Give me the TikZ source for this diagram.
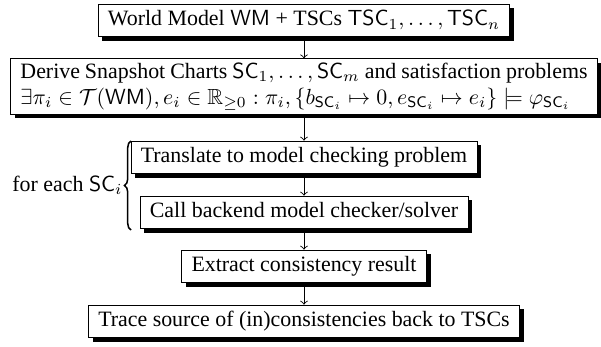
\documentclass[tikz,border=0pt]{standalone}
\usepackage{amsmath,amssymb}
\usepackage[no-math]{fontspec}
\setmainfont{Liberation Serif}
\usetikzlibrary{shadows,decorations.pathreplacing}
\begin{document}
\begin{tikzpicture}[x=0.4567pt,y=-0.4567pt,>=to,
  basebox/.style={draw, fill=white, line width=0.4pt, inner xsep=4.5pt, inner ysep=2.9pt,
    drop shadow={shadow xshift=1.9pt, shadow yshift=-1.9pt, opacity=1, fill=black}},
  onebox/.style={basebox, text height=7pt, text depth=2.2pt},
  flow/.style={->, line width=0.4pt},
  curly/.style={decorate, decoration={brace, amplitude=3pt}, line width=0.7pt}]
\useasboundingbox (0,0) rectangle (601,347);
\node[onebox] (b1) at (304,20.5) {World Model $\mathsf{WM}$ + TSCs $\mathsf{TSC}_1,\ldots,\mathsf{TSC}_n$};
\node[basebox, text width=259pt, align=justify, inner ysep=1.7pt] (b2) at (304,86.5) {\parfillskip=0pt\relax Derive Snapshot Charts $\mathsf{SC}_1,\ldots,\mathsf{SC}_m$ and satisfaction problems\linebreak \mbox{$\exists\pi_i\in\mathcal{T}(\mathsf{WM}), e_i\in\mathbb{R}_{\geq0}:\pi_i,\{b_{\mathsf{SC}_i}\mapsto0, e_{\mathsf{SC}_i}\mapsto e_i\}\models\varphi_{\mathsf{SC}_i}$}};
\node[onebox] (b3) at (304,157.5) {Translate to model checking problem};
\node[onebox] (b4) at (304,212.5) {Call backend model checker/solver};
\node[onebox] (b5) at (304,266.5) {Extract consistency result};
\node[onebox] (b6) at (304,321.5) {Trace source of (in)consistencies back to TSCs};
\coordinate (bt) at (131,141);
\coordinate (bb) at (131,230);
\draw[curly] (bb) -- (bt);
\node[anchor=east, inner sep=0.5pt] (fe) at (124,185) {for each $\mathsf{SC}_i$};
\draw[flow] (b1.south) -- (b2.north);
\draw[flow] (b2.south) -- (b3.north);
\draw[flow] (b3.south) -- (b4.north);
\draw[flow] (b4.south) -- (b5.north);
\draw[flow] (b5.south) -- (b6.north);
\end{tikzpicture}
\end{document}
